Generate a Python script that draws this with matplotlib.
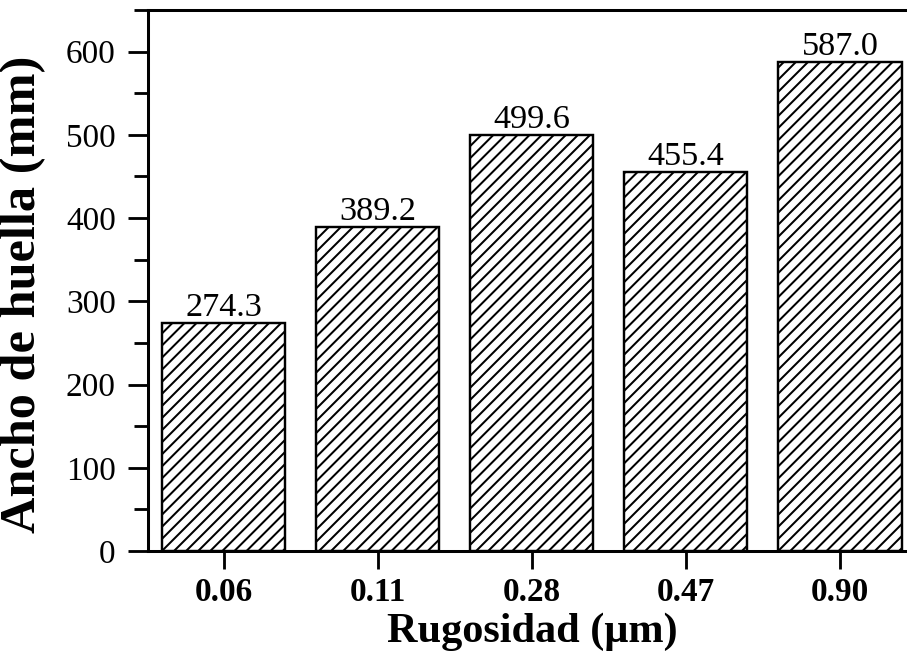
import numpy as np
import matplotlib.pyplot as plt
from matplotlib.ticker import MultipleLocator

# datos
rugosidad = ["0.06", "0.11", "0.28", "0.47", "0.90"]
ancho = [274.3, 389.2, 499.6, 455.4, 587.0]
etiquetas = ["274.3", "389.2", "499.6", "455.4", "587.0"]

plt.rcParams["font.family"] = ["Liberation Serif", "DejaVu Serif"]
plt.rcParams["hatch.linewidth"] = 1.0

dpi = 145
W, H = 907, 651
fig = plt.figure(figsize=(W / dpi, H / dpi), dpi=dpi)
ax = fig.add_axes([148 / W, 100 / H, (917 - 148) / W, (551 - 10) / H])

x = np.arange(len(rugosidad))
ax.bar(x, ancho, width=0.8, color="white", edgecolor="black",
       linewidth=1.2, hatch="////")

for xi, v, t in zip(x, ancho, etiquetas):
    ax.annotate(t, (xi, v), xytext=(0, 3.5), textcoords="offset points",
                ha="center", va="baseline", fontsize=17)

ax.set_xlim(-0.49, 4.5)
ax.set_ylim(0, 650)
ax.set_xticks(x)
ax.set_xticklabels(rugosidad, fontweight="bold", fontsize=16.5)
ax.yaxis.set_major_locator(MultipleLocator(100))
ax.yaxis.set_minor_locator(MultipleLocator(50))
ax.tick_params(axis="y", which="major", direction="out", length=10, width=1.4,
               labelsize=16.5, pad=6)
ax.tick_params(axis="y", which="minor", direction="out", length=7, width=1.4)
ax.tick_params(axis="x", which="major", direction="out", length=9, width=1.4,
               pad=4)
ax.tick_params(top=False, right=False)

for s in ax.spines.values():
    s.set_linewidth(1.5)

ax.set_xlabel("Rugosidad (\u03bcm)", fontsize=21, fontweight="bold", labelpad=2)
ax.set_ylabel("Ancho de huella (mm)", fontsize=25, fontweight="bold")
ax.yaxis.set_label_coords(-(148 - 46) / (917 - 148), 0.475)

fig.savefig("out.png", dpi=dpi)
